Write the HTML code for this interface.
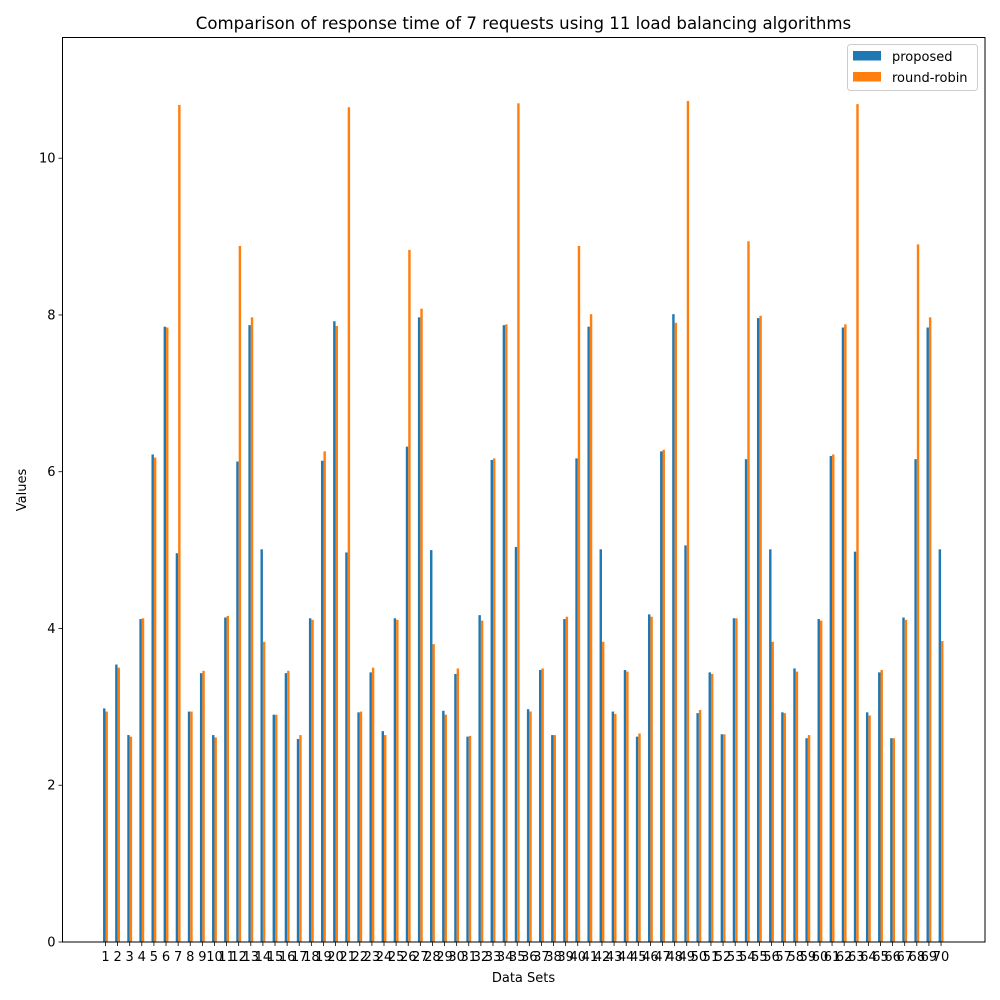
<!DOCTYPE html>
<html><head><meta charset="utf-8"><style>
html,body{margin:0;padding:0;background:#fff;}
svg{display:block;font-family:"DejaVu Sans","Liberation Sans",sans-serif;}
</style></head><body>
<svg id="chart" width="1000" height="1000" viewBox="0 0 1000 1000" xmlns="http://www.w3.org/2000/svg">
<rect width="1000" height="1000" fill="#fff"/>
<text x="523.5" y="29" font-size="16.6" text-anchor="middle" fill="#000">Comparison of response time of 7 requests using 11 load balancing algorithms</text>
<g id="bars"></g>
<g id="axes"></g>
<text x="523.5" y="982" font-size="13" text-anchor="middle">Data Sets</text>
<text x="0" y="0" font-size="13" text-anchor="middle" transform="translate(26,490) rotate(-90)">Values</text>
<g>
<rect x="847.5" y="44.5" width="130" height="46" rx="3" fill="#fff" stroke="#ccc" stroke-width="1"/>
<rect x="853" y="51" width="28" height="9.5" fill="#1f77b4"/>
<text x="892" y="61" font-size="13">proposed</text>
<rect x="853" y="72" width="28" height="9.5" fill="#ff7f0e"/>
<text x="892" y="82" font-size="13">round-robin</text>
</g>
</svg>
<script>
const categories = Array.from({length:70},(_,i)=>String(i+1));
const proposed = [2.98,3.54,2.64,4.12,6.22,7.85,4.96,2.94,3.43,2.64,4.14,6.13,7.87,5.01,2.90,3.43,2.59,4.13,6.14,7.92,4.97,2.93,3.44,2.69,4.13,6.32,7.97,5.00,2.95,3.42,2.62,4.17,6.15,7.87,5.04,2.97,3.47,2.64,4.12,6.17,7.85,5.01,2.94,3.47,2.62,4.18,6.26,8.01,5.06,2.92,3.44,2.65,4.13,6.16,7.96,5.01,2.93,3.49,2.60,4.12,6.20,7.84,4.98,2.93,3.44,2.60,4.14,6.16,7.84,5.01];
const roundRobin = [2.94,3.50,2.62,4.13,6.18,7.84,10.68,2.94,3.46,2.61,4.16,8.88,7.97,3.83,2.90,3.46,2.64,4.11,6.26,7.86,10.65,2.94,3.50,2.64,4.11,8.83,8.08,3.80,2.90,3.49,2.63,4.10,6.17,7.88,10.70,2.94,3.49,2.64,4.15,8.88,8.01,3.83,2.91,3.45,2.66,4.15,6.28,7.90,10.73,2.96,3.42,2.65,4.13,8.94,7.99,3.83,2.92,3.45,2.64,4.10,6.22,7.88,10.69,2.89,3.47,2.60,4.11,8.90,7.97,3.84];
const yTicks = [0,2,4,6,8,10];

const L=62.5,R=985,T=37.5,B=942;
const xMin=-2.549,xMax=73.63,yMin=0,yMax=11.54;
const xs=v=>L+(v-xMin)/(xMax-xMin)*(R-L);
const ys=v=>B-(v-yMin)/(yMax-yMin)*(B-T);
const NS="http://www.w3.org/2000/svg";
const bars=document.getElementById('bars');
const axes=document.getElementById('axes');
const W=0.2;
function mk(tag,attrs,parent){const e=document.createElementNS(NS,tag);for(const k in attrs)e.setAttribute(k,attrs[k]);parent.appendChild(e);return e;}
categories.forEach((c,i)=>{
  const x=i+1;
  const p=mk('rect',{x:xs(x-W),y:ys(proposed[i]),width:xs(x)-xs(x-W),height:ys(0)-ys(proposed[i]),fill:'#1f77b4'},bars);
  
  
  const r=mk('rect',{x:xs(x),y:ys(roundRobin[i]),width:xs(x+W)-xs(x),height:ys(0)-ys(roundRobin[i]),fill:'#ff7f0e'},bars);
  
  
  const tk=mk('line',{x1:xs(x),x2:xs(x),y1:B,y2:B+4,stroke:'#000','stroke-width':0.8},axes);
  
  
  const t=mk('text',{x:xs(x),y:B+19,'font-size':13,'text-anchor':'middle'},axes);
  t.textContent=c;
  
  
});
yTicks.forEach(v=>{
  const tk=mk('line',{x1:L-4,x2:L,y1:ys(v),y2:ys(v),stroke:'#000','stroke-width':0.8},axes);
  
  
  const t=mk('text',{x:L-7,y:ys(v)+4.5,'font-size':13,'text-anchor':'end'},axes);
  t.textContent=String(v);
  
  
});
const frame=mk('rect',{x:L,y:T,width:R-L,height:B-T,fill:'none',stroke:'#000','stroke-width':1},axes);


</script>
</body></html>
